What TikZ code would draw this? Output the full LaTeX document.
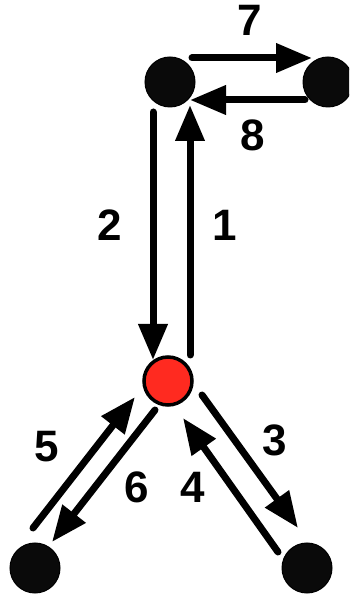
\documentclass[tikz,border=0pt]{standalone}
\usepackage{fontspec}
\setmainfont{Liberation Sans}
\usepackage{xcolor}
\usetikzlibrary{arrows.meta}
\definecolor{sred}{RGB}{255,42,32}

\begin{document}
\begin{tikzpicture}[x=1pt,y=1pt,font=\fontsize{44}{44}\selectfont\bfseries]
\tikzstyle{site}=[circle, fill=black!96, draw=black, line width=1pt, minimum size=50pt, inner sep=0pt]
\tikzstyle{hub}=[circle, fill=sred, draw=black, line width=3.5pt, minimum size=48pt, inner sep=0pt]
\tikzstyle{hop}=[line width=7pt, line cap=round, -{Triangle[length=36pt,width=28pt]}]
\clip (0,0) rectangle (349,597);
\useasboundingbox (0,0) rectangle (349,597);

\node[site] (tl) at (170,515) {};
\node[site] (tr) at (328,515) {};
\node[hub] (red) at (168,216) {};
\node[site] (bl) at (35,29) {};
\node[site] (br) at (307,29) {};

\draw[hop] ([shift={(22,24)}]tl.center) -- ([shift={(-16,24)}]tr.center);
\draw[hop] ([shift={(-23,-18)}]tr.center) -- ([shift={(20,-18)}]tl.center);
\draw[hop] ([shift={(-17,-30)}]tl.center) -- ([shift={(-15,21)}]red.center);
\draw[hop] ([shift={(22,26)}]red.center) -- ([shift={(20,-23)}]tl.center);
\draw[hop] ([shift={(-2,40)}]bl.center) -- ([shift={(-33,-16)}]red.center);
\draw[hop] ([shift={(-13,-29)}]red.center) -- ([shift={(17,26)}]bl.center);
\draw[hop] ([shift={(34,-14)}]red.center) -- ([shift={(-9,40)}]br.center);
\draw[hop] ([shift={(-29,16)}]br.center) -- ([shift={(15,-37)}]red.center);

\node (l7) at (250,577) {7};
\node (l8) at (253,462) {8};
\node (l2) at (110,372) {2};
\node (l1) at (225,372) {1};
\node (l5) at (47,150) {5};
\node (l6) at (137,110) {6};
\node (l4) at (193,110) {4};
\node (l3) at (275,157) {3};
\end{tikzpicture}
\end{document}
